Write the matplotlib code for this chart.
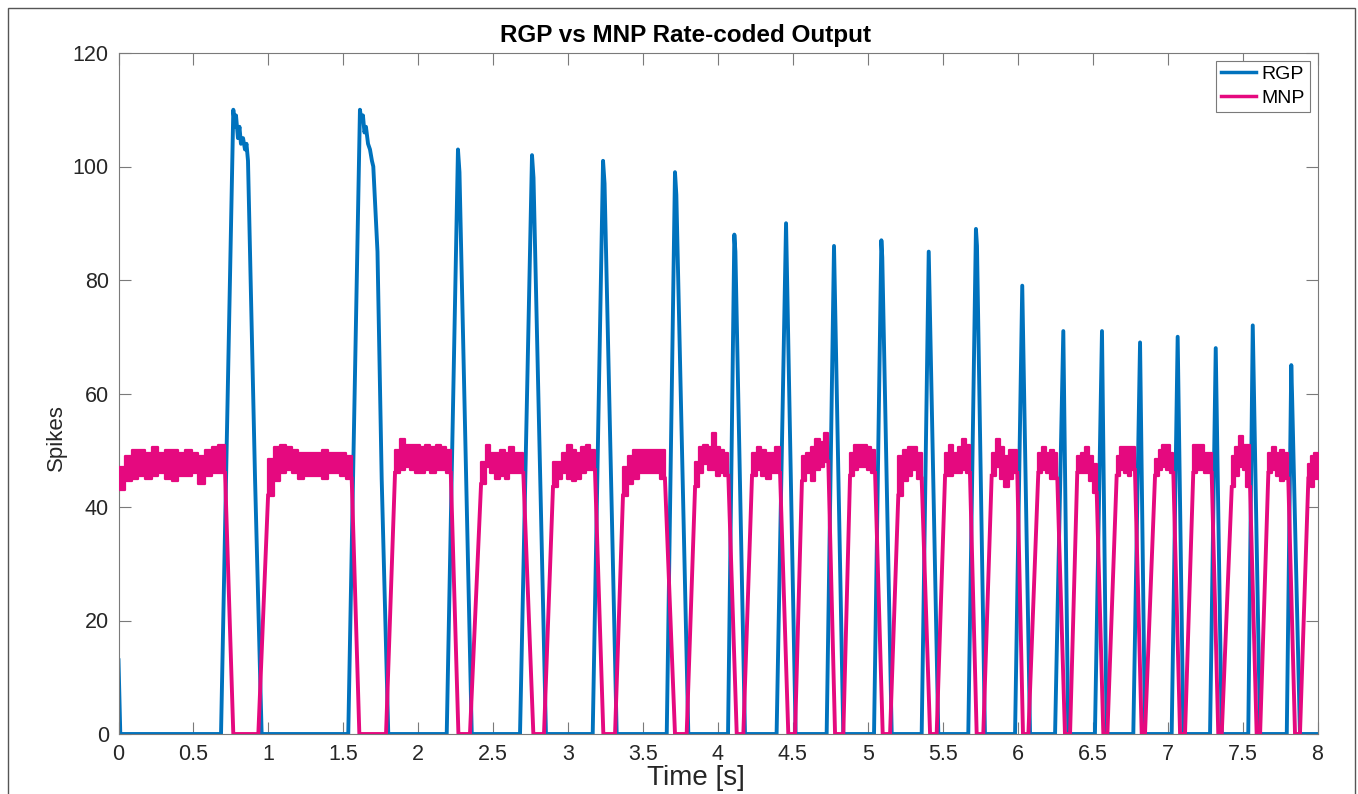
import numpy as np
import matplotlib.pyplot as plt
from matplotlib.patches import Rectangle

plt.rcParams['font.family'] = ['Liberation Sans', 'DejaVu Sans']

# ---- RGP bursts (time in s, spikes) ----
rgp_start_t = [0.0, 0.012]
rgp_start_v = [13, 0]
rgp_onset = [0.684, 1.533, 2.190, 2.679, 3.164, 3.658, 4.067, 4.391, 4.725, 5.041,
             5.359, 5.670, 5.982, 6.249, 6.515, 6.771, 7.027, 7.283, 7.538, 7.795]
rgp_end = [0.955, 1.800, 2.357, 2.852, 3.324, 3.802, 4.180, 4.518, 4.836, 5.159,
           5.470, 5.781, 6.082, 6.337, 6.593, 6.849, 7.105, 7.361, 7.617, 7.883]
rgp_top_t = [
    [0.766, 0.777, 0.784, 0.797, 0.807, 0.817, 0.831, 0.844, 0.854, 0.864, 0.911],
    [1.611, 1.621, 1.631, 1.641, 1.651, 1.665, 1.678, 1.691, 1.700, 1.728, 1.756],
    [2.265, 2.275], [2.759, 2.769], [3.233, 3.243], [3.713, 3.722],
    [4.109, 4.116], [4.454], [4.774], [5.090, 5.096], [5.406], [5.721, 5.728],
    [6.030], [6.304], [6.562], [6.816], [7.067], [7.321], [7.568], [7.825, 7.830]]
rgp_top_v = [
    [110, 107, 109, 105, 107, 104, 105, 103, 104, 101, 45],
    [110, 108, 109, 106, 107, 104, 103, 101, 100, 85, 45],
    [103, 99], [102, 98], [101, 97], [99, 95],
    [88, 85], [90], [86], [87, 84], [85], [89, 86],
    [79], [71], [71], [69], [70], [68], [72], [65, 60]]

# ---- MNP: silent gaps around each RGP burst ----
mnp_fall = [0.711, 1.556, 2.217, 2.701, 3.179, 3.646, 4.069, 4.414, 4.736, 5.048,
            5.359, 5.681, 5.997, 6.264, 6.527, 6.782, 7.038, 7.294, 7.550, 7.805]
mnp_zero_on = [0.766, 1.607, 2.268, 2.768, 3.235, 3.713, 4.125, 4.469, 4.781, 5.099,
               5.415, 5.726, 6.035, 6.315, 6.571, 6.827, 7.083, 7.338, 7.594, 7.850]
mnp_zero_off = [0.933, 1.785, 2.345, 2.839, 3.313, 3.791, 4.169, 4.514, 4.836, 5.148,
                5.459, 5.770, 6.071, 6.349, 6.598, 6.849, 7.116, 7.361, 7.617, 7.883]
mnp_rise = [0.998, 1.845, 2.419, 2.899, 3.366, 3.847, 4.227, 4.560, 4.881, 5.203,
            5.515, 5.826, 6.137, 6.397, 6.660, 6.916, 7.171, 7.428, 7.672, 7.939]

# MNP active plateaus: upper / lower extent of the fluctuating rate
mnp_hi = [
    [47, 49, 50, 50, 49.5, 50.5, 49.5, 50, 50, 49.5, 50, 49.5, 49, 50, 50.5, 51],
    [48.5, 50.5, 51, 50.5, 50, 49.5, 49.5, 49.5, 49.5, 50, 49.5, 49.5, 49.5, 49],
    [50, 52, 51, 51, 51, 50.5, 51, 50.5, 51, 50.5, 50],
    [48, 51, 49.5, 49.5, 50, 49.5, 50.5, 49.5, 49.5],
    [48, 48, 49.5, 51, 50, 49.5, 50.5, 51, 50],
    [47, 49, 50, 50, 50, 50, 50, 50],
    [48, 50.5, 51, 50.5, 53, 50.5, 50, 49.5],
    [49.5, 50.5, 50, 49.5, 49.5, 50.5],
    [49, 49.5, 50.5, 52, 51.5, 53],
    [49.5, 51, 51, 51, 50.5, 50],
    [49, 50, 50.5, 50.5, 49.5],
    [49.5, 51, 49.5, 50.5, 52, 51],
    [49.5, 52, 50.5, 49, 50, 50],
    [49.5, 50.5, 49.5, 50, 49.5],
    [49, 49.5, 50.5, 49, 47.5],
    [49, 50.5, 50.5, 50.5, 50.5],
    [48.5, 50, 51, 51, 49.5],
    [51, 51, 51, 49.5, 49.5],
    [49, 50.5, 52.5, 51, 51],
    [49.5, 50.5, 49.5, 50, 49.5],
    [47.5, 49, 49.5]]
mnp_lo = [
    [43, 44.5, 45, 45.5, 45, 45.5, 46, 45, 44.5, 45.5, 45.5, 46, 44, 45.5, 46, 46],
    [42, 44.5, 46, 46.5, 46, 45, 45.5, 45.5, 45.5, 45, 46, 46, 45.5, 45],
    [46, 46.5, 47, 46.5, 46, 46, 46.5, 46, 46.5, 46.5, 46],
    [44, 47, 46, 45, 45.5, 45, 46, 46, 46],
    [43.5, 45, 46, 45, 44.5, 45, 46, 46.5, 46.5],
    [42, 44, 45, 46, 46, 46, 46, 45],
    [43.5, 46, 47.5, 46.5, 46.5, 45.5, 46, 45.5],
    [45.5, 46.5, 45.5, 45, 46, 46],
    [44.5, 46, 44.5, 46.5, 47, 48],
    [45.5, 46.5, 47, 47, 46.5, 46],
    [42, 44.5, 45.5, 46.5, 45],
    [45.5, 45.5, 46, 46, 46.5, 46],
    [45.5, 47, 45, 43.5, 45, 46],
    [46, 46.5, 46, 45, 45],
    [46, 46, 46, 44.5, 42.5],
    [45.5, 46.5, 46, 45.5, 46.5],
    [45.5, 46.5, 47, 46.5, 46],
    [46, 46.5, 46.5, 46, 46],
    [43.5, 45.5, 47, 46.5, 43.5],
    [46, 46.5, 45.5, 44.5, 45],
    [45, 43.5, 45]]

t_end = 8.0
blue = '#0072BD'
pink = '#E5097F'

# ---- build RGP trace ----
rgp_t = list(rgp_start_t)
rgp_v = list(rgp_start_v)
for on, tt, vv, off in zip(rgp_onset, rgp_top_t, rgp_top_v, rgp_end):
    rgp_t += [on] + tt + [off]
    rgp_v += [0] + vv + [0]
rgp_t.append(t_end)
rgp_v.append(0)

fig = plt.figure(figsize=(13.58, 7.94), dpi=100)
ax = fig.add_axes([118.5 / 1358, 1 - 734 / 794, (1317.5 - 118.5) / 1358, (734 - 53) / 794])

lw = 2.8
rgp_line, = ax.plot(rgp_t, rgp_v, color=blue, lw=lw, solid_joinstyle='round', zorder=2)

# ---- MNP plateaus and gaps ----
starts = [0.0] + mnp_rise
ends = mnp_fall + [t_end]
for a, b, hi, lo in zip(starts, ends, mnp_hi, mnp_lo):
    tt = np.linspace(a, b, len(hi) + 1)
    ax.fill_between(tt, lo + [lo[-1]], hi + [hi[-1]], step='post',
                    facecolor=pink, edgecolor=pink, lw=1.6, zorder=3)
mnp_line = None
for k in range(len(mnp_fall)):
    ln, = ax.plot([mnp_fall[k], mnp_zero_on[k], mnp_zero_off[k], mnp_rise[k]],
                  [mnp_lo[k][-1], 0, 0, mnp_lo[k + 1][0]],
                  color=pink, lw=lw, solid_joinstyle='round', zorder=3)
    if mnp_line is None:
        mnp_line = ln

ax.set_xlim(0, 8)
ax.set_ylim(0, 120)
ax.set_xticks(np.arange(0, 8.01, 0.5))
ax.set_xticklabels(['0', '0.5', '1', '1.5', '2', '2.5', '3', '3.5', '4', '4.5',
                    '5', '5.5', '6', '6.5', '7', '7.5', '8'])
ax.set_yticks(np.arange(0, 121, 20))
ax.tick_params(direction='in', length=8.5, width=0.8, colors='#7a7a7a',
               labelcolor='#262626', labelsize=15.5, top=True, right=True, pad=7)
for sp in ax.spines.values():
    sp.set_color('#7a7a7a')
    sp.set_linewidth(0.8)

ax.set_title('RGP vs MNP Rate-coded Output', fontsize=17.5, fontweight='bold',
             x=0.473, pad=8)
ax.set_xlabel('Time [s]', fontsize=20, color='#262626')
ax.set_ylabel('Spikes', fontsize=16, color='#262626')
ax.xaxis.set_label_coords(0.482, -0.045)
ax.yaxis.set_label_coords(-0.043, 0.435)

leg = ax.legend([rgp_line, mnp_line], ['RGP', 'MNP'], loc='upper right', fontsize=14,
                fancybox=False, framealpha=1, edgecolor='#7a7a7a', borderaxespad=0.4,
                handlelength=1.8, handletextpad=0.3, labelspacing=0.3, borderpad=0.25)
leg.get_frame().set_linewidth(0.8)
for h in leg.get_lines():
    h.set_linewidth(2.5)

fig.patches.append(Rectangle((8 / 1358, -0.05), (1355 - 8) / 1358, 1 - 8 / 794 + 0.05,
                             transform=fig.transFigure, fill=False,
                             edgecolor='#555555', lw=1.0))

fig.savefig('out.png', dpi=100)
